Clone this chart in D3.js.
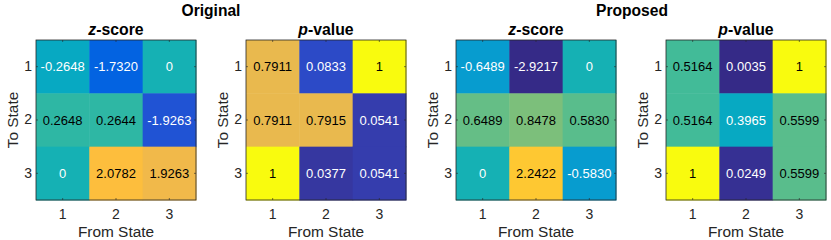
<!DOCTYPE html>
<html><head><meta charset="utf-8">
<script src="https://cdn.jsdelivr.net/npm/d3@7"></script>
<style>
html,body{margin:0;padding:0;background:#fff;}
text{font-family:"Liberation Sans",Arial,Helvetica,sans-serif;}
</style></head>
<body><svg id="c" width="831" height="240"></svg>
<script>
// ---- data ----
const fromStates = [1, 2, 3];
const toStates = [1, 2, 3];
const groupTitles = ["Original", "Proposed"];
const origZ = [[-0.2648, -1.7320, 0], [0.2648, 0.2644, -1.9263], [0, 2.0782, 1.9263]];
const origP = [[0.7911, 0.0833, 1], [0.7911, 0.7915, 0.0541], [1, 0.0377, 0.0541]];
const propZ = [[-0.6489, -2.9217, 0], [0.6489, 0.8478, 0.5830], [0, 2.2422, -0.5830]];
const propP = [[0.5164, 0.0035, 1], [0.5164, 0.3965, 0.5599], [1, 0.0249, 0.5599]];
const zLimits = [-2.45, 3];
const pLimits = [0, 1];

// parula colormap (64)
const parula = [[0.2081,0.1663,0.5292],[0.2116,0.1898,0.5777],[0.2123,0.2138,0.6270],[0.2081,0.2386,0.6771],[0.1959,0.2645,0.7279],[0.1707,0.2919,0.7792],[0.1253,0.3242,0.8303],[0.0591,0.3598,0.8683],[0.0117,0.3875,0.8820],[0.0060,0.4086,0.8828],[0.0165,0.4266,0.8786],[0.0329,0.4430,0.8720],[0.0498,0.4586,0.8641],[0.0629,0.4737,0.8554],[0.0723,0.4887,0.8467],[0.0779,0.5040,0.8384],[0.0793,0.5200,0.8312],[0.0749,0.5375,0.8263],[0.0641,0.5570,0.8240],[0.0488,0.5772,0.8228],[0.0343,0.5966,0.8199],[0.0265,0.6137,0.8135],[0.0239,0.6287,0.8038],[0.0231,0.6418,0.7913],[0.0228,0.6535,0.7768],[0.0267,0.6642,0.7607],[0.0384,0.6743,0.7436],[0.0590,0.6838,0.7254],[0.0843,0.6928,0.7062],[0.1133,0.7015,0.6859],[0.1453,0.7098,0.6646],[0.1801,0.7177,0.6424],[0.2178,0.7250,0.6193],[0.2586,0.7317,0.5954],[0.3022,0.7376,0.5712],[0.3482,0.7424,0.5473],[0.3953,0.7459,0.5244],[0.4420,0.7481,0.5033],[0.4871,0.7491,0.4840],[0.5300,0.7491,0.4661],[0.5709,0.7485,0.4494],[0.6099,0.7473,0.4337],[0.6473,0.7456,0.4188],[0.6834,0.7435,0.4044],[0.7184,0.7411,0.3905],[0.7525,0.7384,0.3768],[0.7858,0.7356,0.3633],[0.8185,0.7327,0.3498],[0.8507,0.7299,0.3360],[0.8824,0.7274,0.3217],[0.9139,0.7258,0.3063],[0.9450,0.7261,0.2886],[0.9739,0.7314,0.2666],[0.9938,0.7455,0.2403],[0.9990,0.7653,0.2164],[0.9955,0.7861,0.1967],[0.9880,0.8066,0.1794],[0.9789,0.8271,0.1633],[0.9697,0.8481,0.1475],[0.9626,0.8705,0.1309],[0.9589,0.8949,0.1132],[0.9598,0.9218,0.0948],[0.9661,0.9514,0.0755],[0.9763,0.9831,0.0538]]
  .map(c => d3.rgb(c[0]*255, c[1]*255, c[2]*255).formatHex());

const panels = [
  {data: origZ, lim: zLimits, title: "z", rest: "-score", left: 36},
  {data: origP, lim: pLimits, title: "p", rest: "-value", left: 246},
  {data: propZ, lim: zLimits, title: "z", rest: "-score", left: 456},
  {data: propP, lim: pLimits, title: "p", rest: "-value", left: 666}
];
const groupCenters = [211, 632];
const panelTop = 40, size = 160;
const axisColor = "#262626";

const svg = d3.select("#c");

groupTitles.forEach((t, i) => {
  svg.append("text").attr("x", groupCenters[i]).attr("y", 15.5)
    .attr("text-anchor", "middle").attr("font-size", 15.6).attr("font-weight", "bold")
    .attr("fill", "#000").text(t);
});

const fmt = v => Number.isInteger(v) ? String(v) : d3.format(".4f")(v).replace("\u2212", "-");

panels.forEach(p => {
  const g = svg.append("g").attr("transform", `translate(${p.left},${panelTop})`);
  const x = d3.scaleBand().domain(fromStates).range([0, size]);
  const y = d3.scaleBand().domain(toStates).range([0, size]);
  const color = d3.scaleQuantize().domain(p.lim).range(parula);
  const tnorm = d3.scaleLinear().domain(p.lim).range([0, 1]);

  const cells = [];
  toStates.forEach((r, i) => fromStates.forEach((c, j) => cells.push({r, c, v: p.data[i][j]})));

  g.selectAll("rect.cell").data(cells).join("rect").attr("class", "cell")
    .attr("x", d => x(d.c)).attr("y", d => y(d.r))
    .attr("width", x.bandwidth() + 0.5).attr("height", y.bandwidth() + 0.5)
    .attr("fill", d => color(d.v));

  g.selectAll("text.val").data(cells).join("text").attr("class", "val")
    .attr("x", d => x(d.c) + x.bandwidth() / 2)
    .attr("y", d => y(d.r) + y.bandwidth() / 2)
    .attr("dy", "0.36em").attr("text-anchor", "middle").attr("font-size", 13)
    .attr("fill", d => tnorm(d.v) > 0.47 ? "#000" : "#fff")
    .text(d => fmt(d.v));

  // axes
  const xb = g.append("g").attr("transform", `translate(0,${size})`)
    .call(d3.axisBottom(x).tickSizeInner(-2).tickSizeOuter(0).tickPadding(9));
  const xt = g.append("g").call(d3.axisTop(x).tickSizeInner(-2).tickSizeOuter(0).tickFormat(""));
  const yl = g.append("g").call(d3.axisLeft(y).tickSizeInner(-2).tickSizeOuter(0).tickPadding(4));
  const yr = g.append("g").attr("transform", `translate(${size},0)`)
    .call(d3.axisRight(y).tickSizeInner(-2).tickSizeOuter(0).tickFormat(""));
  [xb, xt, yl, yr].forEach(a => {
    a.select(".domain").remove();
    a.selectAll("line").attr("stroke", axisColor).attr("stroke-width", 0.6);
    a.selectAll("text").attr("fill", axisColor).attr("font-size", 14)
      .attr("font-family", "'Liberation Sans',Arial,sans-serif");
  });
  xb.selectAll("text").attr("dy", "0.71em");

  g.append("rect").attr("x", 0).attr("y", 0).attr("width", size).attr("height", size)
    .attr("fill", "none").attr("stroke", axisColor).attr("stroke-width", 0.8);

  // titles & labels
  const tt = g.append("text").attr("x", size / 2).attr("y", -5)
    .attr("text-anchor", "middle").attr("font-size", 15.8).attr("font-weight", "bold").attr("fill", "#000");
  tt.append("tspan").attr("font-style", "italic").text(p.title);
  tt.append("tspan").text(p.rest);

  g.append("text").attr("x", size / 2).attr("y", 196.5)
    .attr("text-anchor", "middle").attr("font-size", 15.4).attr("fill", axisColor).text("From State");
  g.append("text").attr("transform", `translate(${-18},${size / 2}) rotate(-90)`)
    .attr("text-anchor", "middle").attr("font-size", 15.4).attr("fill", axisColor).text("To State");
});
</script>
</body></html>
